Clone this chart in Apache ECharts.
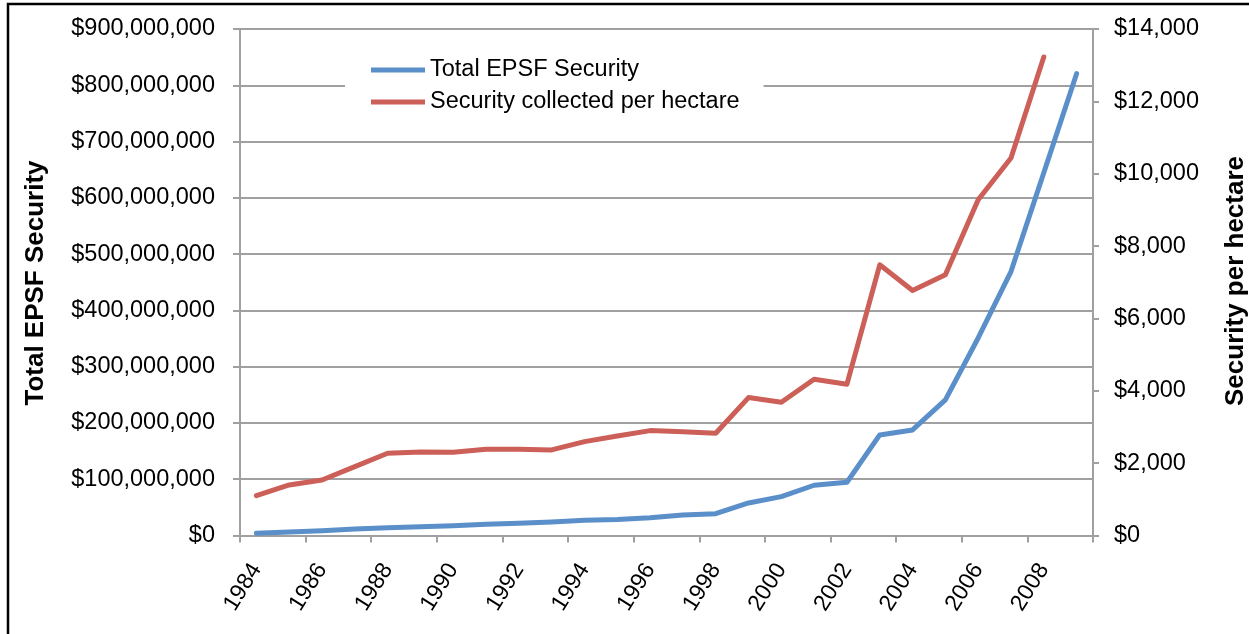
<!DOCTYPE html>
<html>
<head>
<meta charset="utf-8">
<title>EPSF Security</title>
<script src="https://cdn.jsdelivr.net/npm/echarts@6/dist/echarts.min.js"></script>
<style>
  html, body { margin: 0; padding: 0; background: #fff; }
  #chart { width: 1249px; height: 634px; }
</style>
</head>
<body>
<div id="chart"></div>
<script>
// Years on the category axis
const years = ['1984','1985','1986','1987','1988','1989','1990','1991','1992','1993',
  '1994','1995','1996','1997','1998','1999','2000','2001','2002','2003',
  '2004','2005','2006','2007','2008','2009'];

// Total EPSF security, dollars (left axis)
const totalSecurity = [3.9e6, 6.2e6, 8.5e6, 11.6e6, 13.9e6, 15.6e6, 17.4e6, 19.9e6, 21.7e6, 24.0e6,
  27.0e6, 28.5e6, 31.6e6, 36.4e6, 38.8e6, 57.8e6, 69.0e6, 89.3e6, 94.6e6, 178.7e6,
  187.6e6, 241.0e6, 351.0e6, 469.0e6, 644.5e6, 820.6e6];

// Security collected per hectare, dollars (right axis); no value for 2009
const perHectare = [1101, 1397, 1535, 1903, 2274, 2310, 2301, 2384, 2384, 2365,
  2594, 2752, 2899, 2871, 2827, 3812, 3684, 4320, 4182, 7482,
  6771, 7205, 9280, 10433, 13227, null];

const seriesNames = ['Total EPSF Security', 'Security collected per hectare'];
const axisTitles = ['Total EPSF Security', 'Security per hectare'];

const FONT = "'Liberation Sans', Arial, Helvetica, sans-serif";
const GRID_GRAY = '#a0a0a0';
const BLUE = '#5a8fca';
const RED = '#cc5f58';

function dollars(v) {
  return '$' + String(Math.round(v)).replace(/\B(?=(\d{3})+(?!\d))/g, ',');
}

const chart = echarts.init(document.getElementById('chart'), null, { renderer: 'canvas' });

chart.setOption({
  animation: false,
  backgroundColor: '#fff',
  grid: { left: 240, right: 156, top: 29, bottom: 98.5, containLabel: false },
  legend: {
    orient: 'vertical',
    left: 345,
    top: 55,
    padding: [3, 24, 3, 26],
    backgroundColor: '#fff',
    icon: 'rect',
    itemWidth: 54,
    itemHeight: 5,
    itemGap: 8,
    textStyle: { fontFamily: FONT, fontSize: 23.5, color: '#000', lineHeight: 24 },
    data: seriesNames
  },
  xAxis: {
    type: 'category',
    data: years,
    boundaryGap: true,
    axisLine: { lineStyle: { color: GRID_GRAY, width: 2 } },
    axisTick: { show: true, interval: 1, length: 7, lineStyle: { color: GRID_GRAY, width: 2 } },
    axisLabel: {
      interval: 1,
      rotate: 58,
      margin: 30,
      fontFamily: FONT,
      fontSize: 23,
      color: '#000'
    },
    splitLine: { show: false }
  },
  yAxis: [
    {
      type: 'value',
      min: 0,
      max: 900000000,
      interval: 100000000,
      position: 'left',
      axisLine: { show: true, lineStyle: { color: GRID_GRAY, width: 2 } },
      axisTick: { show: true, length: 7, lineStyle: { color: GRID_GRAY, width: 2 } },
      axisLabel: { margin: 25, fontFamily: FONT, fontSize: 23.5, color: '#000', formatter: dollars },
      splitLine: { show: true, lineStyle: { color: GRID_GRAY, width: 2 } }
    },
    {
      type: 'value',
      min: 0,
      max: 14000,
      interval: 2000,
      position: 'right',
      axisLine: { show: true, lineStyle: { color: GRID_GRAY, width: 2 } },
      axisTick: { show: true, length: 6, lineStyle: { color: GRID_GRAY, width: 2 } },
      axisLabel: { margin: 21, fontFamily: FONT, fontSize: 23.5, color: '#000', formatter: dollars },
      splitLine: { show: false }
    }
  ],
  series: [
    {
      name: seriesNames[0],
      type: 'line',
      yAxisIndex: 0,
      data: totalSecurity,
      symbol: 'none',
      lineStyle: { color: BLUE, width: 5, cap: 'round', join: 'round' },
      itemStyle: { color: BLUE },
      z: 3
    },
    {
      name: seriesNames[1],
      type: 'line',
      yAxisIndex: 1,
      data: perHectare,
      symbol: 'none',
      lineStyle: { color: RED, width: 5, cap: 'round', join: 'round' },
      itemStyle: { color: RED },
      z: 2
    }
  ],
  graphic: [
    {
      type: 'rect',
      silent: true,
      shape: { x: 8, y: 4, width: 1270, height: 660 },
      style: { fill: 'none', stroke: '#000', lineWidth: 2.5 },
      z: 10
    },
    {
      type: 'text',
      x: 36,
      y: 283,
      rotation: Math.PI / 2,
      style: {
        text: axisTitles[0],
        fontFamily: FONT,
        fontSize: 26,
        fontWeight: 'bold',
        fill: '#000',
        align: 'center',
        verticalAlign: 'middle'
      }
    },
    {
      type: 'text',
      x: 1236,
      y: 281,
      rotation: Math.PI / 2,
      style: {
        text: axisTitles[1],
        fontFamily: FONT,
        fontSize: 26,
        fontWeight: 'bold',
        fill: '#000',
        align: 'center',
        verticalAlign: 'middle'
      }
    }
  ]
});
</script>
</body>
</html>
